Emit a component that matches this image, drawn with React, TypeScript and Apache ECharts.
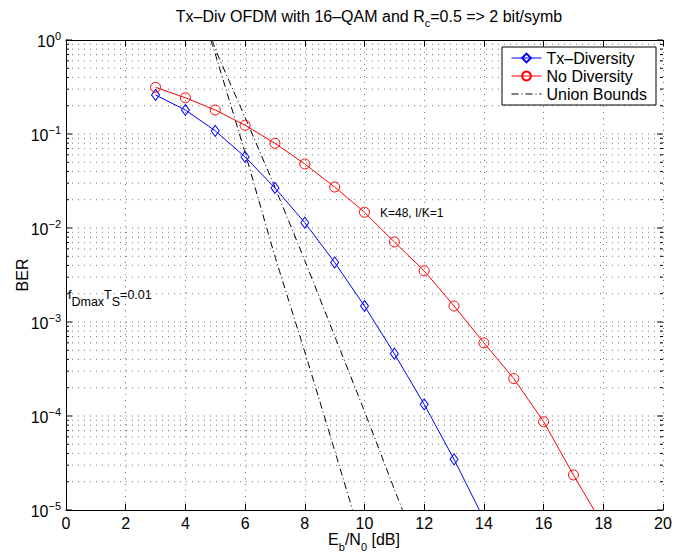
import React, { useEffect, useRef } from "react";
import * as echarts from "echarts";

// ---- data ----
const ebn0Tx = [3, 4, 5, 6, 7, 8, 9, 10, 11, 12, 13, 14];
const berTx = [0.26, 0.18, 0.108, 0.057, 0.0267, 0.0114, 0.0043, 0.00148, 4.6e-4, 1.33e-4, 3.46e-5, 8.0e-6];

const ebn0No = [3, 4, 5, 6, 7, 8, 9, 10, 11, 12, 13, 14, 15, 16, 17, 18];
const berNo = [0.314, 0.243, 0.18, 0.124, 0.0796, 0.048, 0.0273, 0.0147, 0.0071, 0.0035, 0.00148, 6.0e-4, 2.5e-4, 8.7e-5, 2.36e-5, 6.8e-6];

const ubTxX = [4.85, 5, 6, 7, 8, 9, 9.6];
const ubTxY = [1.0, 0.71, 0.063, 0.005, 4.8e-4, 4.3e-5, 1.0e-5];

const ubNoX = [4.9, 5, 6, 7, 8, 9, 10, 11, 11.3];
const ubNoY = [1.0, 0.8, 0.15, 0.027, 0.0045, 7.1e-4, 1.12e-4, 1.66e-5, 9.5e-6];

const xMin = 0;
const xMax = 20;
const xStep = 2;
const yDecades = [1e-5, 1e-4, 1e-3, 1e-2, 1e-1, 1];
const yMantissas = [2, 3, 4, 5, 6, 7, 8, 9];

const FONT = "'Liberation Sans', Arial, Helvetica, sans-serif";
const GRID_COLOR = "#777";
const GRID_DASH = [1, 5];

export default function App() {
  const ref = useRef<HTMLDivElement>(null);

  useEffect(() => {
    if (!ref.current) return;
    const chart = echarts.init(ref.current, undefined, { renderer: "svg" });

    // horizontal grid values (majors + minors), built from the tick arrays
    const yGrid: [number, number, number][] = [];
    yDecades.forEach((d, i) => {
      yGrid.push([xMin, d, 1]);
      if (i < yDecades.length - 1) {
        yMantissas.forEach((m) => yGrid.push([xMin, m * d, 0]));
      }
    });

    const supLabel = (v: number) => {
      const e = Math.round(Math.log10(v));
      const s = e === 0 ? "0" : "\u2212" + Math.abs(e);
      return "{b|10}{s|" + s + "}";
    };

    const option: any = {
      animation: false,
      backgroundColor: "#fff",
      textStyle: { fontFamily: FONT },
      title: {
        text: "{a|Tx\u2013Div OFDM with 16\u2013QAM and R}{c|c}{a|=0.5 => 2 bit/symb}",
        left: 364,
        textAlign: "center",
        top: 3,
        textStyle: {
          fontWeight: "normal",
          rich: {
            a: { fontSize: 16, fontFamily: FONT, color: "#000", fontWeight: "normal", verticalAlign: "top" },
            c: { fontSize: 11, fontFamily: FONT, color: "#000", fontWeight: "normal", verticalAlign: "bottom", padding: [9, 0, 0, 0] },
          },
        },
      },
      grid: { left: 66, right: 27, top: 40, bottom: 43, containLabel: false },
      legend: {
        left: 502,
        top: 47,
        orient: "vertical",
        backgroundColor: "#fff",
        borderColor: "#000",
        borderWidth: 1,
        borderRadius: 0,
        padding: [3, 9, 3, 9],
        itemGap: 2,
        itemWidth: 30,
        itemHeight: 11,
        selectedMode: false,
        lineStyle: { width: 1 },
        textStyle: { fontSize: 16, fontFamily: FONT, color: "#000" },
        data: ["Tx\u2013Diversity", "No Diversity", "Union Bounds"],
      },
      xAxis: [
        {
          type: "value",
          min: xMin,
          max: xMax,
          interval: xStep,
          position: "bottom",
          axisLine: { show: true, lineStyle: { color: "#000", width: 1 } },
          axisTick: { show: true, inside: true, length: 6, lineStyle: { color: "#000" } },
          axisLabel: { fontSize: 16, fontFamily: FONT, color: "#000", margin: 5 },
          splitLine: { show: true, lineStyle: { color: GRID_COLOR, type: GRID_DASH, width: 1 } },
        },
        {
          type: "value",
          min: xMin,
          max: xMax,
          interval: xStep,
          position: "top",
          axisLine: { show: true, lineStyle: { color: "#000", width: 1 } },
          axisTick: { show: true, inside: true, length: 6, lineStyle: { color: "#000" } },
          axisLabel: { show: false },
          splitLine: { show: false },
        },
      ],
      yAxis: [
        {
          type: "log",
          logBase: 10,
          min: yDecades[0],
          max: yDecades[yDecades.length - 1],
          position: "left",
          axisLine: { show: true, lineStyle: { color: "#000", width: 1 } },
          axisTick: { show: false },
          splitLine: { show: false },
          axisLabel: {
            margin: 5,
            formatter: supLabel,
            rich: {
              b: { fontSize: 16, fontFamily: FONT, color: "#000", verticalAlign: "bottom" },
              s: { fontSize: 11, fontFamily: FONT, color: "#000", verticalAlign: "top", padding: [0, 0, 8, 0] },
            },
          },
        },
        {
          type: "log",
          logBase: 10,
          min: yDecades[0],
          max: yDecades[yDecades.length - 1],
          position: "right",
          axisLine: { show: true, lineStyle: { color: "#000", width: 1 } },
          axisTick: { show: false },
          splitLine: { show: false },
          axisLabel: { show: false },
        },
      ],
      series: [
        {
          type: "custom",
          name: "grid",
          silent: true,
          coordinateSystem: "cartesian2d",
          xAxisIndex: 0,
          yAxisIndex: 0,
          clip: false,
          z: 1,
          data: yGrid,
          renderItem: (_p: any, api: any) => {
            const v = api.value(1);
            const major = api.value(2) === 1;
            const p0 = api.coord([xMin, v]);
            const p1 = api.coord([xMax, v]);
            const t = major ? 6 : 3;
            const children: any[] = [];
            const isEdge = v <= yDecades[0] * 1.0001 || v >= yDecades[yDecades.length - 1] * 0.9999;
            if (!isEdge) {
              children.push({
                type: "line",
                shape: { x1: p0[0], y1: p0[1], x2: p1[0], y2: p1[1] },
                style: { stroke: GRID_COLOR, lineWidth: 1, lineDash: GRID_DASH },
              });
            }
            children.push({
              type: "line",
              shape: { x1: p0[0], y1: p0[1], x2: p0[0] + t, y2: p0[1] },
              style: { stroke: "#000", lineWidth: 1 },
            });
            children.push({
              type: "line",
              shape: { x1: p1[0], y1: p1[1], x2: p1[0] - t, y2: p1[1] },
              style: { stroke: "#000", lineWidth: 1 },
            });
            return { type: "group", children };
          },
        },
        {
          type: "line",
          name: "Tx\u2013Diversity",
          data: ebn0Tx.map((x, i) => [x, berTx[i]]),
          clip: true,
          z: 5,
          symbol: "diamond",
          symbolSize: [8, 11],
          lineStyle: { color: "#0000ff", width: 1 },
          itemStyle: { color: "rgba(0,0,0,0)", borderColor: "#0000ff", borderWidth: 1 },
          emphasis: { disabled: true },
        },
        {
          type: "line",
          name: "No Diversity",
          data: ebn0No.map((x, i) => [x, berNo[i]]),
          clip: true,
          z: 5,
          symbol: "circle",
          symbolSize: 10,
          lineStyle: { color: "#ff0000", width: 1 },
          itemStyle: { color: "rgba(0,0,0,0)", borderColor: "#ff0000", borderWidth: 1 },
          emphasis: { disabled: true },
        },
        {
          type: "line",
          name: "Union Bounds",
          data: ubTxX.map((x, i) => [x, ubTxY[i]]),
          clip: true,
          z: 4,
          symbol: "none",
          smooth: 0.2,
          lineStyle: { color: "#000", width: 1, type: [7, 3, 1, 3] },
          itemStyle: { color: "rgba(0,0,0,0)", borderWidth: 0 },
          emphasis: { disabled: true },
        },
        {
          type: "line",
          name: "Union Bounds",
          data: ubNoX.map((x, i) => [x, ubNoY[i]]),
          clip: true,
          z: 4,
          symbol: "none",
          smooth: 0.2,
          lineStyle: { color: "#000", width: 1, type: [7, 3, 1, 3] },
          itemStyle: { color: "rgba(0,0,0,0)", borderWidth: 0 },
          emphasis: { disabled: true },
        },
      ],
      graphic: [
        {
          type: "text",
          x: 22,
          y: 275,
          rotation: Math.PI / 2,
          style: { text: "BER", fontSize: 16, fontFamily: FONT, fill: "#000", align: "center", verticalAlign: "middle" },
        },
        {
          type: "text",
          x: 364,
          y: 531,
          style: {
            text: "{a|E}{s|b}{a|/N}{s|0}{a| [dB]}",
            align: "center",
            verticalAlign: "top",
            rich: {
              a: { fontSize: 16, fontFamily: FONT, fill: "#000", verticalAlign: "top" },
              s: { fontSize: 11, fontFamily: FONT, fill: "#000", verticalAlign: "bottom", padding: [10, 0, 0, 0] },
            },
          },
        },
        {
          type: "text",
          x: 68,
          y: 298,
          style: {
            text: "{a|f}{s|Dmax}{a|T}{s|S}{a|=0.01}",
            align: "left",
            verticalAlign: "middle",
            rich: {
              a: { fontSize: 12.5, fontFamily: FONT, fill: "#000", verticalAlign: "top" },
              s: { fontSize: 12.5, fontFamily: FONT, fill: "#000", verticalAlign: "bottom", padding: [7, 0, 0, 0] },
            },
          },
        },
        {
          type: "text",
          x: 380,
          y: 213,
          style: { text: "K=48, I/K=1", fontSize: 12, fontFamily: FONT, fill: "#000", align: "left", verticalAlign: "middle" },
        },
      ],
    };

    chart.setOption(option);
    return () => chart.dispose();
  }, []);

  return (
    <div
      ref={ref}
      style={{ position: "fixed", left: 0, top: 0, width: 690, height: 553, background: "#fff" }}
    />
  );
}
